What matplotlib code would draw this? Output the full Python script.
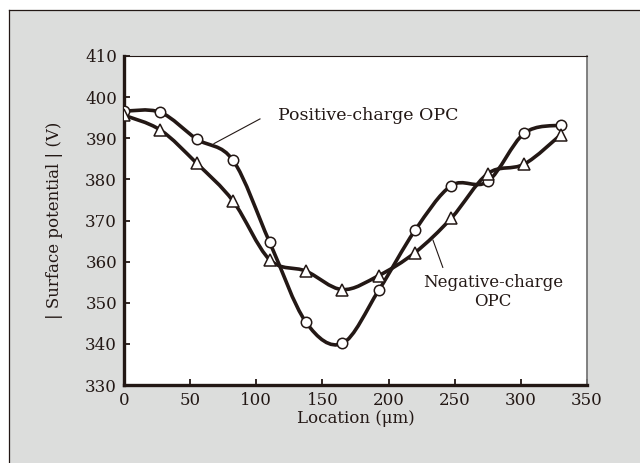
import numpy as np
import matplotlib.pyplot as plt
from matplotlib.path import Path
from matplotlib.patches import PathPatch, Rectangle

location = [0, 27.5, 55, 82.5, 110, 137.5, 165, 192.5, 220, 247.5, 275, 302.5, 330]
positive_opc = [396.6, 396.3, 389.8, 384.6, 364.8, 345.3, 340.1, 353.0, 367.6, 378.5, 379.5, 391.2, 393.2]
negative_opc = [395.6, 392.0, 383.9, 374.7, 360.5, 357.7, 353.2, 356.6, 362.2, 370.6, 381.4, 383.7, 390.8]

ink = '#231815'
paper = '#dcdddc'

plt.rcParams['font.family'] = ['DejaVu Serif']
plt.rcParams['mathtext.fontset'] = 'dejavuserif'


def smooth_path(x, y):
    # Catmull-Rom style bezier through the measured points (drawing only)
    x = np.asarray(x, float)
    y = np.asarray(y, float)
    verts = [(x[0], y[0])]
    codes = [Path.MOVETO]
    n = len(x)
    for i in range(n - 1):
        i0 = max(i - 1, 0)
        i3 = min(i + 2, n - 1)
        c1 = (x[i] + (x[i + 1] - x[i0]) / 6, y[i] + (y[i + 1] - y[i0]) / 6)
        c2 = (x[i + 1] - (x[i3] - x[i]) / 6, y[i + 1] - (y[i3] - y[i]) / 6)
        verts += [c1, c2, (x[i + 1], y[i + 1])]
        codes += [Path.CURVE4] * 3
    return Path(verts, codes)


fig = plt.figure(figsize=(6.4, 4.63), dpi=100, facecolor='white')
# grey panel with a dark border on the top and left
fig.patches.append(Rectangle((9 / 640, -0.05), 1.0, 1 - 10 / 463 + 0.05, transform=fig.transFigure,
                             facecolor=paper, edgecolor='none', zorder=-2))
fig.lines.append(plt.Line2D([9 / 640, 9 / 640], [0, 1 - 10 / 463], transform=fig.transFigure,
                            color=ink, lw=0.9))
fig.lines.append(plt.Line2D([9 / 640, 1], [1 - 10 / 463, 1 - 10 / 463], transform=fig.transFigure,
                            color=ink, lw=0.9))

ax = fig.add_axes([124 / 640, 1 - 385 / 463, 463 / 640, 329 / 463])
ax.set_facecolor('white')

for xs, ys in [(location, positive_opc), (location, negative_opc)]:
    ax.add_patch(PathPatch(smooth_path(xs, ys), facecolor='none', edgecolor=ink, lw=2.6, zorder=2))

ax.plot(location, positive_opc, ls='none', marker='o', ms=7.5, mfc='white', mec=ink, mew=1.1, zorder=3)
ax.plot(location, negative_opc, ls='none', marker='^', ms=8, mfc='white', mec=ink, mew=1.1, zorder=3)

ax.set_xlim(0, 350)
ax.set_ylim(330, 410)
ax.set_xticks(range(0, 351, 50))
ax.set_yticks(range(330, 411, 10))
ax.tick_params(direction='in', length=4, width=1.3, colors=ink, labelsize=12, pad=5)

ax.spines['left'].set_linewidth(2.4)
ax.spines['bottom'].set_linewidth(2.4)
ax.spines['left'].set_color(ink)
ax.spines['bottom'].set_color(ink)
ax.spines['top'].set_linewidth(0.8)
ax.spines['top'].set_color(ink)
ax.spines['right'].set_linewidth(1.3)
ax.spines['right'].set_color('#777777')

ax.set_xlabel('Location (μm)', fontsize=12, color=ink, labelpad=1)
ax.set_ylabel('| Surface potential | (V)', fontsize=12, color=ink, labelpad=16)

# labels with leader lines
ax.plot([102.8, 68], [394.7, 388.7], color=ink, lw=0.8)
ax.text(116.5, 395.5, 'Positive-charge OPC', fontsize=12.5, color=ink, va='center', ha='left')
ax.plot([233.6, 241], [365.2, 358.6], color=ink, lw=0.8)
ax.text(279, 352.5, 'Negative-charge\nOPC', fontsize=12, color=ink, va='center', ha='center',
        linespacing=1.15)

plt.savefig('out.png', dpi=100, facecolor='white')
